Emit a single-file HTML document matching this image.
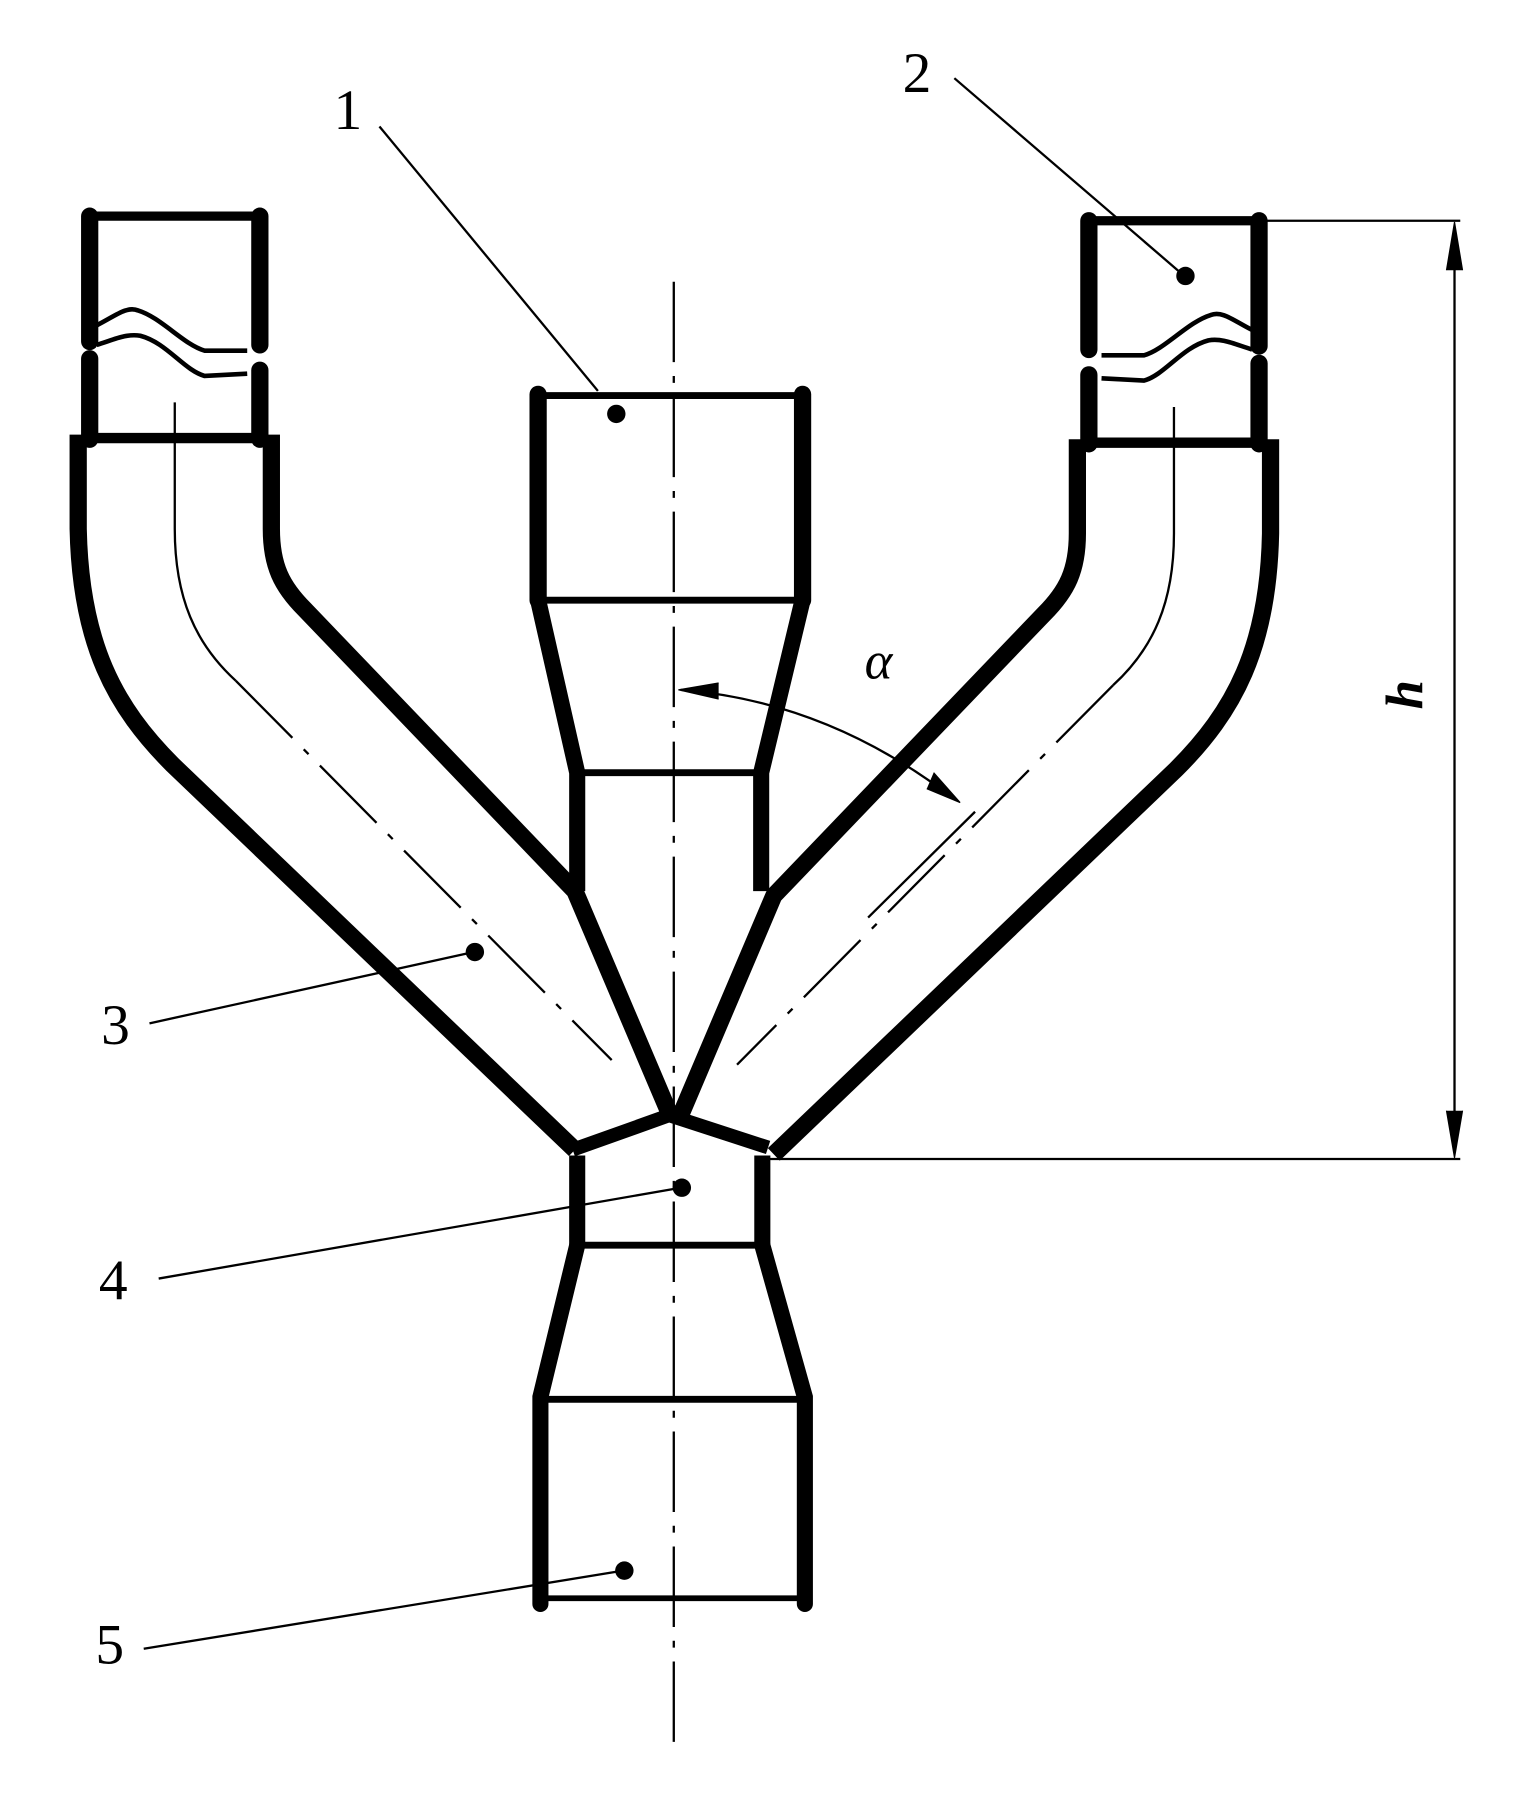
<!DOCTYPE html>
<html><head><style>html,body{margin:0;padding:0;background:#fff}svg{display:block}</style></head>
<body>
<svg width="1535" height="1800" viewBox="0 0 1335 1565.5" preserveAspectRatio="none" xmlns="http://www.w3.org/2000/svg">
<defs>
<g id="br" fill="none" stroke="#000">
  <line x1="78" y1="188" x2="78" y2="297" stroke-width="15" stroke-linecap="round"/>
  <line x1="78" y1="312" x2="78" y2="382" stroke-width="15" stroke-linecap="round"/>
  <line x1="226" y1="188" x2="226" y2="300" stroke-width="15" stroke-linecap="round"/>
  <line x1="226" y1="322" x2="226" y2="382" stroke-width="15" stroke-linecap="round"/>
  <line x1="78" y1="188" x2="226" y2="188" stroke-width="8"/>
  <line x1="78" y1="381" x2="226" y2="381" stroke-width="9"/>
  <path d="M84,283 C100,275 110,266 120,270 C140,276 160,300 178,305 L215,305" stroke-width="4"/>
  <path d="M84,300 C100,295 110,290 122,292 C145,298 160,322 178,327 L215,325" stroke-width="4"/>
  <path d="M68,378 L68,460 C70,560 100,615 150,665 L500,1000" stroke-width="15" stroke-linejoin="round"/>
  <path d="M236,378 L236,460 C236,492 245,510 265,530 L500,775 L582,968" stroke-width="15" stroke-linejoin="round"/>
  <path d="M152,350 L152,460 C152,520 170,560 205,592" stroke-width="2"/>
  <line x1="205" y1="592" x2="532" y2="922" stroke-width="2" stroke-dasharray="70,14,6,14"/>
</g>
</defs>
<use href="#br"/>
<use href="#br" transform="translate(1173,4) scale(-1,1)"/>
<g fill="none" stroke="#000">
  <!-- top central -->
  <line x1="468" y1="343" x2="468" y2="522" stroke-width="15" stroke-linecap="round"/>
  <line x1="698" y1="343" x2="698" y2="522" stroke-width="15" stroke-linecap="round"/>
  <line x1="468" y1="344" x2="698" y2="344" stroke-width="6"/>
  <line x1="468" y1="522" x2="698" y2="522" stroke-width="6"/>
  <path d="M468,522 L502,672 L502,775" stroke-width="14"/>
  <path d="M698,522 L662,672 L662,775" stroke-width="14"/>
  <line x1="500" y1="672" x2="662" y2="672" stroke-width="6"/>
  <!-- junction -->
  <path d="M498,1000 L582,970 L668,998" stroke-width="12" stroke-linejoin="round"/>
  <line x1="502" y1="1005" x2="502" y2="1085" stroke-width="14"/>
  <line x1="663" y1="1005" x2="663" y2="1085" stroke-width="14"/>
  <line x1="502" y1="1083" x2="663" y2="1083" stroke-width="6"/>
  <path d="M502,1083 L470,1215 L470,1395" stroke-width="14" stroke-linecap="round"/>
  <path d="M663,1083 L700,1215 L700,1395" stroke-width="14" stroke-linecap="round"/>
  <line x1="468" y1="1217" x2="700" y2="1217" stroke-width="6"/>
  <line x1="468" y1="1390" x2="700" y2="1390" stroke-width="5"/>
  <!-- centerline -->
  <line x1="586" y1="245" x2="586" y2="1525" stroke-width="2" stroke-dasharray="70,12,6,12"/>
  <!-- dimension h -->
  <line x1="1100" y1="192" x2="1270" y2="192" stroke-width="2"/>
  <line x1="668" y1="1008" x2="1270" y2="1008" stroke-width="2"/>
  <line x1="1265" y1="200" x2="1265" y2="1000" stroke-width="2"/>
  <path d="M1258,235 L1265,193 L1272,235" fill="#000" stroke-width="1"/>
  <path d="M1258,966 L1265,1007 L1272,966" fill="#000" stroke-width="1"/>
  <!-- angle -->
  <path d="M592,600 Q720,610 830,695" stroke-width="2"/>
  <path d="M625,594 L590,600 L625,608" fill="#000" stroke-width="1"/>
  <path d="M812,672 L835,698 L806,686" fill="#000" stroke-width="1"/>
  <line x1="848" y1="706" x2="755" y2="798" stroke-width="2"/>
  <!-- leaders -->
  <line x1="330" y1="110" x2="520" y2="340" stroke-width="2"/>
  <line x1="830" y1="68" x2="1030" y2="240" stroke-width="2"/>
  <line x1="130" y1="890" x2="412" y2="828" stroke-width="2"/>
  <line x1="138" y1="1112" x2="592" y2="1033" stroke-width="2"/>
  <line x1="125" y1="1434" x2="542" y2="1366" stroke-width="2"/>
</g>
<g fill="#000">
  <circle cx="536" cy="360" r="8"/><circle cx="1031" cy="240" r="8"/>
  <circle cx="413" cy="828" r="8"/><circle cx="593" cy="1033" r="8"/><circle cx="543" cy="1366" r="8"/>
</g>
<g font-family="Liberation Serif, serif" font-size="50" fill="#000">
  <text x="290" y="112">1</text>
  <text x="785" y="80">2</text>
  <text x="88" y="908">3</text>
  <text x="86" y="1130">4</text>
  <text x="83" y="1447">5</text>
  <text x="752" y="590" font-style="italic" font-size="46">α</text>
  <text x="0" y="0" font-style="italic" font-weight="bold" font-size="46" transform="translate(1237,617) rotate(-90)">h</text>
</g>
</svg>
</body></html>
